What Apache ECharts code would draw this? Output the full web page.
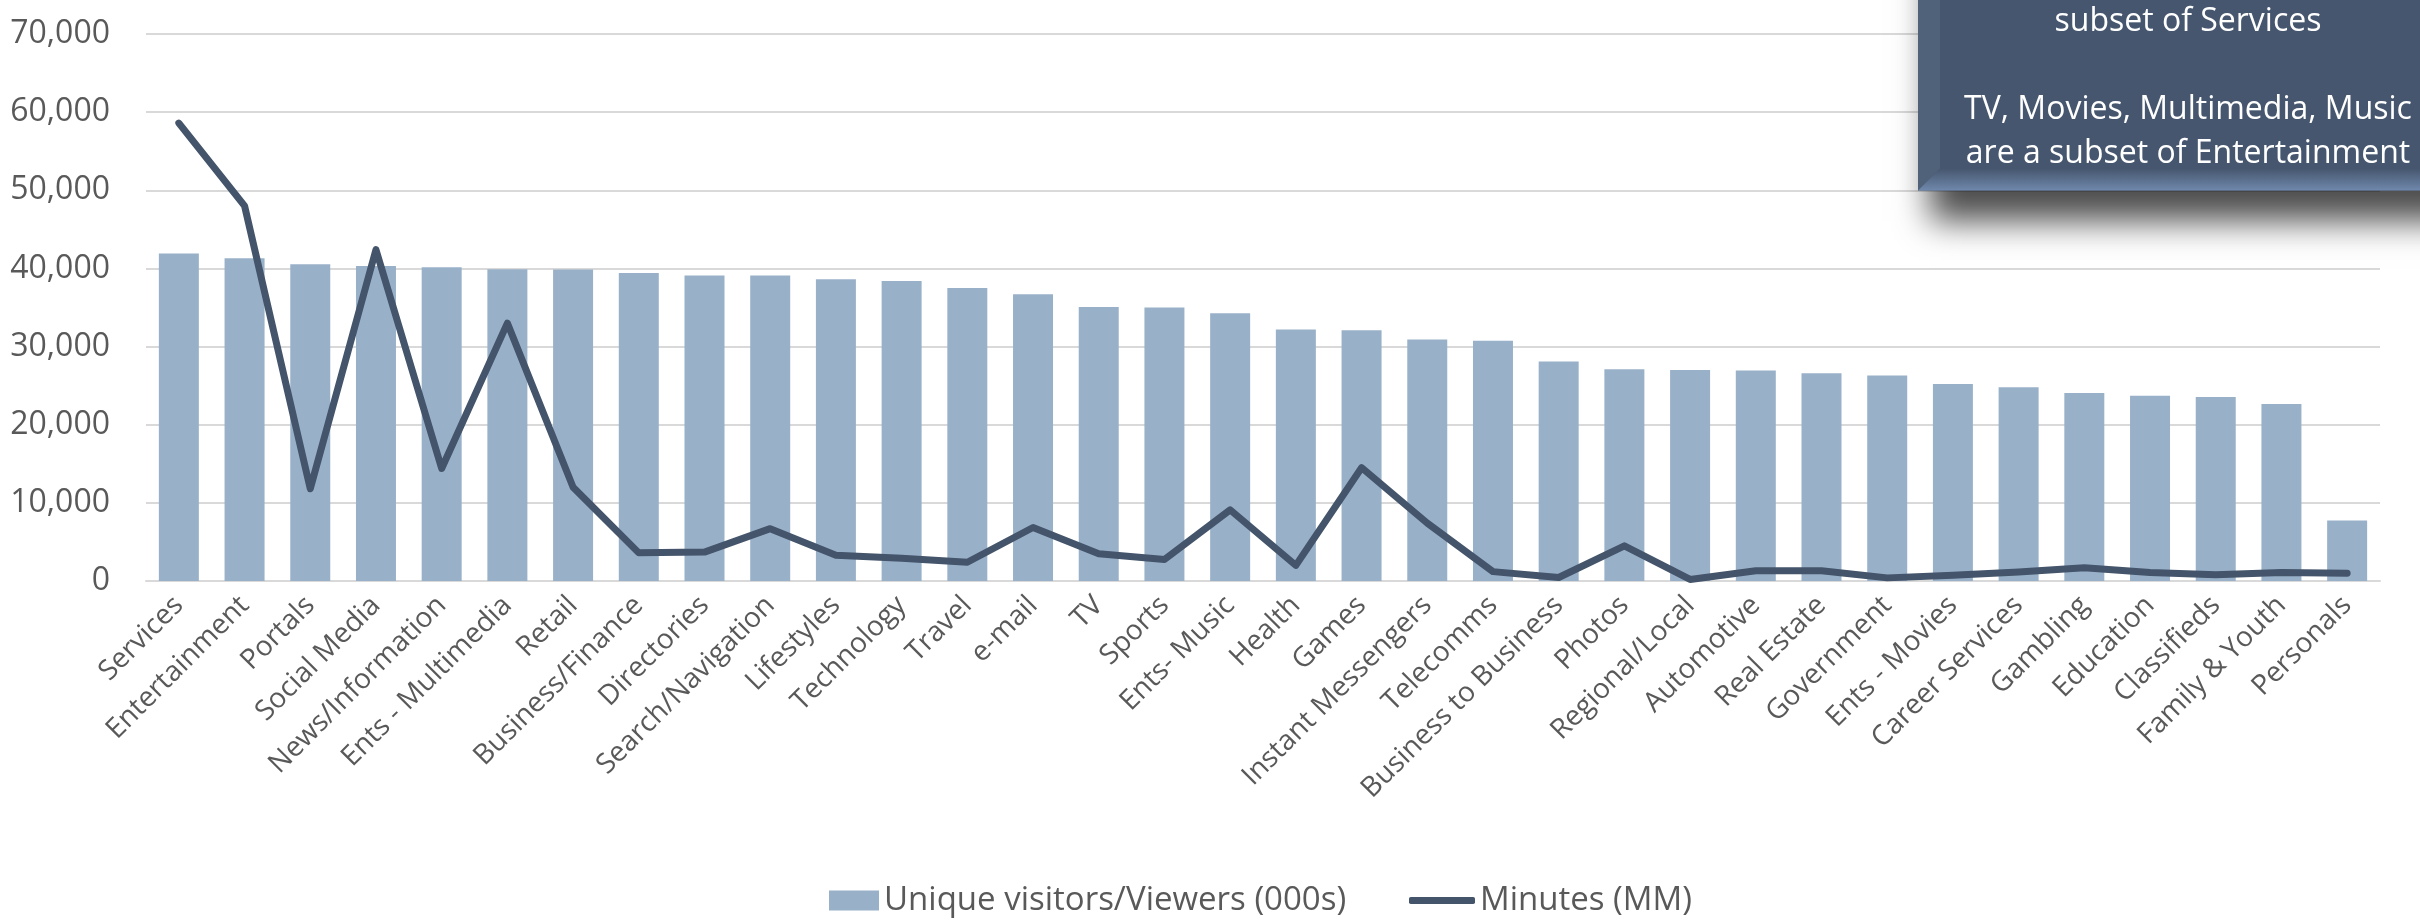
<!DOCTYPE html>
<html>
<head>
<meta charset="utf-8">
<script src="https://cdn.jsdelivr.net/npm/echarts@6/dist/echarts.min.js"></script>
<style>
  html, body { margin: 0; padding: 0; background: #ffffff; }
  #chart { width: 2420px; height: 923px; }
</style>
</head>
<body>
<div id="chart"></div>
<script>
// Site categories, ordered by audience size
const categories = [
  'Services', 'Entertainment', 'Portals', 'Social Media', 'News/Information',
  'Ents - Multimedia', 'Retail', 'Business/Finance', 'Directories', 'Search/Navigation',
  'Lifestyles', 'Technology', 'Travel', 'e-mail', 'TV', 'Sports', 'Ents- Music',
  'Health', 'Games', 'Instant Messengers', 'Telecomms', 'Business to Business',
  'Photos', 'Regional/Local', 'Automotive', 'Real Estate', 'Government',
  'Ents - Movies', 'Career Services', 'Gambling', 'Education', 'Classifieds',
  'Family & Youth', 'Personals'
];

// Unique visitors / viewers, thousands
const uniqueVisitors = [
  41900, 41300, 40550, 40300, 40150, 39900, 39850, 39400, 39100, 39100,
  38600, 38400, 37500, 36700, 35050, 35000, 34250, 32200, 32100, 30900,
  30750, 28100, 27100, 27000, 26950, 26600, 26300, 25200, 24800, 24050,
  23700, 23550, 22650, 7750
];

// Minutes spent, millions
const minutesMM = [
  58600, 48000, 11800, 42400, 14400, 33000, 12000, 3600, 3700, 6700,
  3300, 2900, 2400, 6850, 3500, 2750, 9100, 2000, 14500, 7400,
  1200, 450, 4500, 200, 1300, 1300, 400, 750, 1150, 1700,
  1100, 800, 1100, 1000
];

const yTicks = { min: 0, max: 70000, step: 10000 };

const noteLines = [
  'subset of Services',
  '',
  'TV, Movies, Multimedia, Music',
  'are a subset of Entertainment'
];

const seriesNames = ['Unique visitors/Viewers (000s)', 'Minutes (MM)'];

const FONT = '"Open Sans", "Noto Sans", sans-serif';
const TEXT_GREY = '#595959';
const BAR_COLOR = '#98B1C9';
const LINE_COLOR = '#44546A';

const chart = echarts.init(document.getElementById('chart'), null, { renderer: 'canvas' });

// Call-out box on the upper right (runs past the right edge)
const boxLeft = 1918, boxRight = 2462, boxTop = -80, boxBottom = 190.5;
const bevel = 22;

chart.setOption({
  backgroundColor: '#ffffff',
  animation: false,
  textStyle: { fontFamily: FONT },
  grid: { left: 146, right: 40, top: 34, bottom: 342, containLabel: false },
  legend: [
    {
      data: [seriesNames[0]],
      left: 824, top: 879,
      itemWidth: 50, itemHeight: 20,
      icon: 'rect',
      textStyle: { color: TEXT_GREY, fontSize: 33, fontFamily: FONT }
    },
    {
      data: [seriesNames[1]],
      left: 1404, top: 879,
      itemWidth: 66, itemHeight: 7,
      icon: 'roundRect',
      textStyle: { color: TEXT_GREY, fontSize: 33, fontFamily: FONT }
    }
  ],
  xAxis: {
    type: 'category',
    data: categories,
    boundaryGap: true,
    axisLine: { show: true, lineStyle: { color: '#D9D9D9', width: 2 } },
    axisTick: { show: false },
    axisLabel: {
      interval: 0,
      rotate: 45,
      margin: 20,
      color: TEXT_GREY,
      fontSize: 28,
      fontFamily: FONT
    }
  },
  yAxis: {
    type: 'value',
    min: yTicks.min,
    max: yTicks.max,
    interval: yTicks.step,
    axisLine: { show: false },
    axisTick: { show: false },
    splitLine: { lineStyle: { color: '#D9D9D9', width: 2 } },
    axisLabel: {
      margin: 36,
      color: TEXT_GREY,
      fontSize: 32,
      fontFamily: FONT,
      formatter: v => v.toLocaleString('en-US')
    }
  },
  series: [
    {
      name: seriesNames[0],
      type: 'bar',
      data: uniqueVisitors,
      barWidth: 40,
      itemStyle: { color: BAR_COLOR }
    },
    {
      name: seriesNames[1],
      type: 'line',
      data: minutesMM,
      symbol: 'none',
      smooth: false,
      lineStyle: { color: LINE_COLOR, width: 7, cap: 'round', join: 'round' },
      itemStyle: { color: LINE_COLOR },
      z: 5
    }
  ],
  graphic: [
    {
      type: 'rect',
      z: 100,
      shape: { x: boxLeft, y: boxTop, width: boxRight - boxLeft, height: boxBottom - boxTop },
      style: {
        fill: '#46566E',
        shadowBlur: 32,
        shadowOffsetX: 12,
        shadowOffsetY: 30,
        shadowColor: 'rgba(0,0,0,0.7)'
      }
    },
    {
      type: 'polygon',
      z: 101,
      shape: { points: [[boxLeft, boxTop], [boxLeft + bevel, boxTop], [boxLeft + bevel, boxBottom - bevel], [boxLeft, boxBottom]] },
      style: { fill: 'rgba(120,140,170,0.22)' }
    },
    {
      type: 'polygon',
      z: 101,
      shape: { points: [[boxLeft, boxBottom], [boxLeft + bevel, boxBottom - bevel], [boxRight, boxBottom - bevel], [boxRight, boxBottom]] },
      style: {
        fill: {
          type: 'linear', x: 0, y: 0, x2: 0, y2: 1,
          colorStops: [
            { offset: 0, color: '#46566E' },
            { offset: 1, color: '#6F88AC' }
          ]
        }
      }
    },
    {
      type: 'text',
      z: 102,
      style: {
        x: 2188,
        y: 0,
        text: noteLines.join('\n'),
        fill: '#ffffff',
        font: '32px ' + FONT,
        textAlign: 'center',
        textVerticalAlign: 'top',
        lineHeight: 44
      }
    }
  ]
});
</script>
</body>
</html>
